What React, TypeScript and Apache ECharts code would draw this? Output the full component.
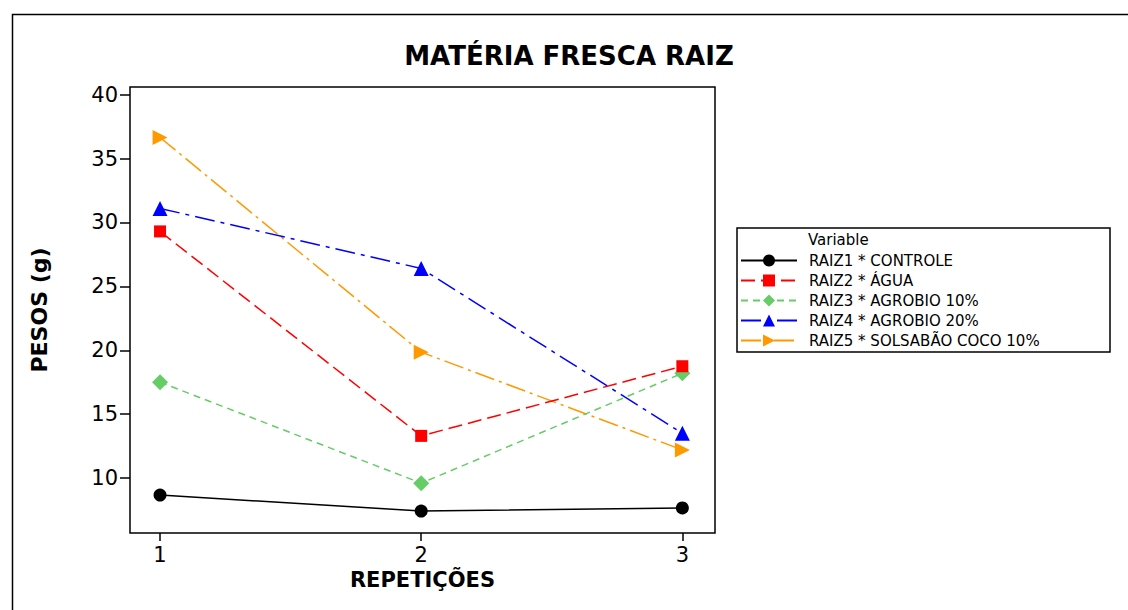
import React, { useEffect, useRef } from "react";
import * as echarts from "echarts";

const reps = [1, 2, 3];
const yTicks = [10, 15, 20, 25, 30, 35, 40];
const seriesNames = [
  "RAIZ1 * CONTROLE",
  "RAIZ2 * ÁGUA",
  "RAIZ3 * AGROBIO 10%",
  "RAIZ4 * AGROBIO 20%",
  "RAIZ5 * SOLSABÃO COCO 10%",
];
const raiz1 = [8.67, 7.42, 7.66];
const raiz2 = [29.3, 13.3, 18.75];
const raiz3 = [17.5, 9.6, 18.2];
const raiz4 = [31.1, 26.4, 13.5];
const raiz5 = [36.65, 19.85, 12.2];

const FONT = "DejaVu Sans";

export default function App() {
  const ref = useRef<HTMLDivElement>(null);
  useEffect(() => {
    if (!ref.current) return;
    const chart = echarts.init(ref.current, undefined, { renderer: "svg" });
    const values = [raiz1, raiz2, raiz3, raiz4, raiz5];
    const styles = [
      { color: "#000000", symbol: "circle", size: 13, dash: "solid", rotate: 0 },
      { color: "#ff0000", symbol: "rect", size: 12, dash: [14, 6], rotate: 0 },
      { color: "#66cc66", symbol: "diamond", size: 16, dash: [7, 5], rotate: 0 },
      { color: "#0000ff", symbol: "triangle", size: 15, dash: [20, 6, 4, 6], rotate: 0 },
      { color: "#ff9900", symbol: "triangle", size: 15, dash: [20, 5, 3, 5], rotate: -90 },
    ];
    const series = values.map((vals, i) => ({
      name: seriesNames[i],
      type: "line",
      data: reps.map((r, j) => [r, vals[j]]),
      symbol: styles[i].symbol,
      symbolSize: styles[i].size,
      symbolRotate: styles[i].rotate,
      itemStyle: { color: styles[i].color },
      lineStyle: { color: styles[i].color, width: 1.5, type: styles[i].dash as any },
      z: 10 - i,
    }));
    chart.setOption({
      animation: false,
      backgroundColor: "#ffffff",
      grid: {
        left: 130,
        top: 87,
        right: 413,
        bottom: 77,
        show: true,
        borderColor: "#000",
        borderWidth: 1.5,
        backgroundColor: "transparent",
      },
      xAxis: {
        type: "value",
        min: 0.885,
        max: 3.125,
        name: "REPETIÇÕES",
        nameLocation: "middle",
        nameGap: 35,
        nameTextStyle: { fontFamily: FONT, fontWeight: "bold", fontSize: 21, color: "#000" },
        axisLine: { show: false },
        splitLine: { show: false },
        axisTick: { show: true, length: 8, lineStyle: { color: "#000", width: 1.5 }, customValues: reps },
        axisLabel: { customValues: reps, fontFamily: FONT, fontSize: 21, color: "#000", margin: 11 },
      },
      yAxis: {
        type: "value",
        min: 5.7,
        max: 40.6,
        name: "PESOS (g)",
        nameLocation: "middle",
        nameGap: 80,
        nameTextStyle: { fontFamily: FONT, fontWeight: "bold", fontSize: 22, color: "#000" },
        axisLine: { show: false },
        splitLine: { show: false },
        axisTick: { show: true, length: 10, lineStyle: { color: "#000", width: 1.5 }, customValues: yTicks },
        axisLabel: { customValues: yTicks, fontFamily: FONT, fontSize: 21, color: "#000", margin: 12 },
      },
      legend: {
        orient: "vertical",
        left: 740,
        top: 253,
        padding: 0,
        itemWidth: 56,
        itemHeight: 15,
        itemGap: 5,
        data: seriesNames,
        textStyle: { fontFamily: FONT, fontSize: 15, color: "#000", padding: [0, 0, 0, 7] },
      },
      graphic: [
        {
          type: "rect",
          left: 10,
          top: 12,
          shape: { x: 0, y: 0, width: 1140, height: 700 },
          style: { fill: "none", stroke: "#000", lineWidth: 1.5 },
          silent: true,
        },
        {
          type: "rect",
          shape: { x: 737, y: 228, width: 373, height: 124 },
          style: { fill: "#fff", stroke: "#000", lineWidth: 1.5 },
          z: -1,
          silent: true,
        },
        {
          type: "text",
          x: 808,
          y: 240,
          style: { text: "Variable", fontFamily: FONT, fontSize: 15, fill: "#000", textVerticalAlign: "middle" },
        },
        {
          type: "text",
          x: 569,
          y: 56,
          style: {
            text: "MATÉRIA FRESCA RAIZ",
            fontFamily: FONT,
            fontWeight: "bold",
            fontSize: 26,
            fill: "#000",
            textAlign: "center",
            textVerticalAlign: "middle",
          },
        },
      ],
      series,
    });
    return () => chart.dispose();
  }, []);
  return (
    <div
      ref={ref}
      style={{ position: "fixed", left: 0, top: 0, width: 1128, height: 610, background: "#fff" }}
    />
  );
}
